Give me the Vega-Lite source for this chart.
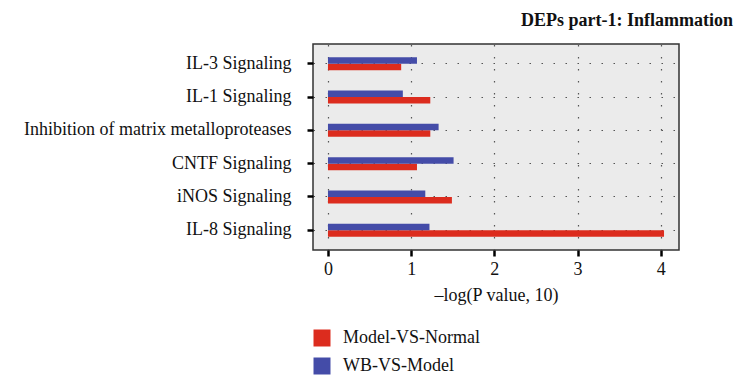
{
  "$schema": "https://vega.github.io/schema/vega-lite/v6.json",
  "width": 366,
  "height": 206,
  "autosize": {"type": "none"},
  "padding": {"left": 313, "top": 44, "right": 55, "bottom": 126},
  "background": "white",
  "title": {
    "text": "DEPs part-1: Inflammation",
    "anchor": "end",
    "frame": "group",
    "dx": 54,
    "offset": 14,
    "font": "Liberation Serif",
    "fontSize": 18,
    "fontWeight": "bold",
    "color": "#111"
  },
  "config": {
    "view": {"fill": "#ebebeb", "stroke": "#333333", "strokeWidth": 1.5},
    "font": "Liberation Serif"
  },
  "data": {
    "values": [
      {"pathway": "IL-3 Signaling", "group": "Model-VS-Normal", "value": 0.88},
      {"pathway": "IL-3 Signaling", "group": "WB-VS-Model", "value": 1.07},
      {"pathway": "IL-1 Signaling", "group": "Model-VS-Normal", "value": 1.23},
      {"pathway": "IL-1 Signaling", "group": "WB-VS-Model", "value": 0.90},
      {"pathway": "Inhibition of matrix metalloproteases", "group": "Model-VS-Normal", "value": 1.23},
      {"pathway": "Inhibition of matrix metalloproteases", "group": "WB-VS-Model", "value": 1.33},
      {"pathway": "CNTF Signaling", "group": "Model-VS-Normal", "value": 1.07},
      {"pathway": "CNTF Signaling", "group": "WB-VS-Model", "value": 1.51},
      {"pathway": "iNOS Signaling", "group": "Model-VS-Normal", "value": 1.49},
      {"pathway": "iNOS Signaling", "group": "WB-VS-Model", "value": 1.17},
      {"pathway": "IL-8 Signaling", "group": "Model-VS-Normal", "value": 4.04},
      {"pathway": "IL-8 Signaling", "group": "WB-VS-Model", "value": 1.22}
    ]
  },
  "mark": {"type": "bar"},
  "encoding": {
    "y": {
      "field": "pathway",
      "type": "nominal",
      "sort": null,
      "scale": {"paddingInner": 0.61, "paddingOuter": 0.4},
      "axis": {
        "title": null,
        "domain": false,
        "grid": true,
        "gridDash": [1.5, 10.5],
        "gridColor": "#555555",
        "gridWidth": 1.2,
        "tickColor": "#000000",
        "tickWidth": 2.5,
        "tickSize": 6,
        "labelPadding": 16,
        "labelFont": "Liberation Serif",
        "labelFontSize": 18,
        "labelColor": "#111",
        "labelLimit": 400
      }
    },
    "yOffset": {
      "field": "group",
      "type": "nominal",
      "sort": ["WB-VS-Model", "Model-VS-Normal"]
    },
    "x": {
      "field": "value",
      "type": "quantitative",
      "scale": {"domain": [-0.18, 4.22], "nice": false, "zero": false},
      "axis": {
        "title": "–log(P value, 10)",
        "titleFont": "Liberation Serif",
        "titleFontSize": 18,
        "titleFontWeight": "normal",
        "titleColor": "#111",
        "titlePadding": 8,
        "values": [0, 0.5, 1, 1.5, 2, 2.5, 3, 3.5, 4],
        "format": "d",
        "labelExpr": "datum.value % 1 === 0 ? datum.label : ''",
        "domain": false,
        "grid": true,
        "gridDash": [1.5, 10.5],
        "gridColor": "#555555",
        "gridWidth": 1.2,
        "tickColor": "#000000",
        "tickWidth": 2.5,
        "tickSize": 6,
        "tickOpacity": {"condition": {"test": "datum.value % 1 === 0", "value": 1}, "value": 0},
        "labelPadding": 4,
        "labelFont": "Liberation Serif",
        "labelFontSize": 18,
        "labelColor": "#111"
      }
    },
    "color": {
      "field": "group",
      "type": "nominal",
      "sort": ["Model-VS-Normal", "WB-VS-Model"],
      "scale": {"domain": ["Model-VS-Normal", "WB-VS-Model"], "range": ["#dc2c1e", "#444ca8"]},
      "legend": {
        "title": null,
        "orient": "none",
        "legendX": 0,
        "legendY": 285,
        "direction": "vertical",
        "symbolType": "square",
        "symbolSize": 289,
        "symbolStrokeWidth": 0,
        "symbolOpacity": 1,
        "labelFont": "Liberation Serif",
        "labelFontSize": 18,
        "labelColor": "#111",
        "labelOffset": 12,
        "rowPadding": 10
      }
    }
  }
}
